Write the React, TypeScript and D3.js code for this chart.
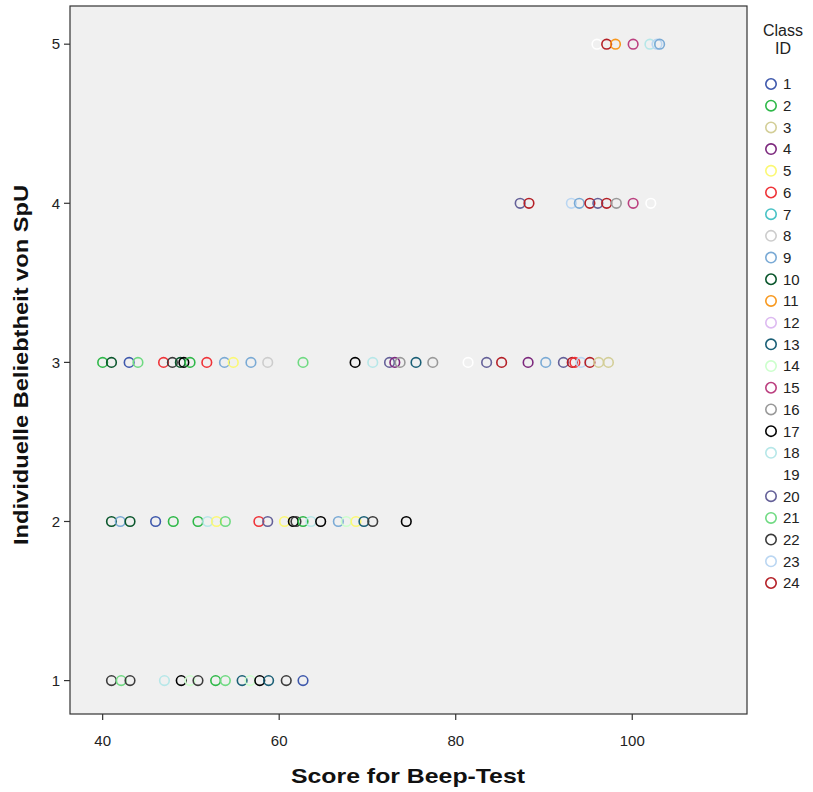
import React from "react";
import * as d3 from "d3";

// Beep-test score, popularity rating and class for every pupil
const scores: number[] = [
  // rating 5
  96.0, 97.1, 98.1, 100.1, 102.0, 102.8, 103.1,
  // rating 4
  87.3, 88.3, 93.1, 94.0, 95.2, 96.1, 97.1, 98.2, 100.1, 102.1,
  // rating 3
  40.0, 41.0, 43.0, 44.0, 46.9, 47.9, 48.8, 49.2, 49.9, 51.8, 53.8, 54.8, 56.8, 58.7,
  62.7, 68.6, 70.6, 72.5, 73.1, 73.7, 75.5, 77.4,
  81.4, 83.5, 85.2, 88.2, 90.2, 92.2, 93.2, 93.5, 94.2, 95.2, 96.2, 97.3,
  // rating 2
  41.0, 42.0, 43.1, 46.0, 48.0, 50.8, 51.9, 52.9, 53.9, 57.7, 58.7,
  60.6, 61.6, 61.9, 62.7, 63.6, 64.7, 66.7, 67.6, 68.7, 69.6, 70.6, 74.4,
  // rating 1
  41.0, 42.1, 43.1, 47.0, 48.9, 49.9, 50.8, 52.8, 53.9, 55.8, 56.7, 57.8, 58.8, 60.8, 62.7,
];

const ratings: number[] = [
  5, 5, 5, 5, 5, 5, 5,
  4, 4, 4, 4, 4, 4, 4, 4, 4, 4,
  3, 3, 3, 3, 3, 3, 3, 3, 3, 3, 3, 3, 3, 3,
  3, 3, 3, 3, 3, 3, 3, 3,
  3, 3, 3, 3, 3, 3, 3, 3, 3, 3, 3, 3,
  2, 2, 2, 2, 2, 2, 2, 2, 2, 2, 2,
  2, 2, 2, 2, 2, 2, 2, 2, 2, 2, 2, 2,
  1, 1, 1, 1, 1, 1, 1, 1, 1, 1, 1, 1, 1, 1, 1,
];

const classIds: number[] = [
  19, 24, 11, 15, 18, 23, 9,
  20, 24, 23, 9, 24, 20, 24, 16, 15, 19,
  2, 10, 1, 21, 6, 22, 10, 17, 2, 6, 9, 5, 9, 8,
  21, 17, 18, 20, 4, 16, 13, 16,
  19, 20, 24, 4, 9, 20, 24, 6, 23, 24, 3, 3,
  10, 9, 10, 1, 2, 2, 18, 5, 21, 6, 20,
  5, 17, 22, 2, 18, 17, 9, 14, 5, 13, 22, 17,
  22, 21, 22, 18, 17, 14, 22, 2, 21, 13, 14, 17, 13, 22, 1,
];

const classLabels: string[] = d3.range(1, 25).map(String);

const classColors: string[] = [
  "#3E58AC", "#2EB848", "#D3CE97", "#7C287D", "#FBF873", "#EF3338",
  "#48C2C5", "#CCCCCC", "#7AAAD5", "#0A562C", "#F8981D", "#DDBAF1",
  "#1A5F76", "#CCFFCC", "#BB3F7F", "#999999", "#000000", "#B6E7E8",
  "#FFFFFF", "#646098", "#6FDA82", "#3C3C3C", "#BAD6F2", "#B41F26",
];

const xTicks: number[] = [40, 60, 80, 100];
const yTicks: number[] = [1, 2, 3, 4, 5];

const W = 813;
const H = 792;
const plot = { left: 70, right: 747, top: 6, bottom: 714 };
const font = "'Liberation Sans', Arial, sans-serif";

export default function App() {
  const x = d3.scaleLinear().domain([36.3, 113.0]).range([plot.left, plot.right]);
  const y = d3.scaleLinear().domain([0.79, 5.24]).range([plot.bottom, plot.top]);
  const color = d3.scaleOrdinal<string, string>().domain(classLabels).range(classColors);
  const legendY = d3.scalePoint<string>().domain(classLabels).range([84, 583]);

  const points = scores.map((s, i) => ({ s, r: ratings[i], c: String(classIds[i]) }));

  return (
    <svg
      width={W}
      height={H}
      style={{ position: "absolute", left: 0, top: 0, background: "#fff" }}
      fontFamily={font}
    >
      <rect
        x={plot.left}
        y={plot.top}
        width={plot.right - plot.left}
        height={plot.bottom - plot.top}
        fill="#F0F0F0"
        stroke="#333"
        strokeWidth={1.2}
      />

      {points.map((p, i) => (
        <circle
          key={i}
          cx={x(p.s)}
          cy={y(p.r)}
          r={4.8}
          fill="none"
          stroke={color(p.c)}
          strokeWidth={1.6}
        />
      ))}

      {/* x axis */}
      {xTicks.map((t) => (
        <g key={t} transform={`translate(${x(t)},${plot.bottom})`}>
          <line y1={0} y2={6} stroke="#333" strokeWidth={1.2} />
          <text y={32} textAnchor="middle" fontSize={15} fill="#222">
            {t}
          </text>
        </g>
      ))}

      {/* y axis */}
      {yTicks.map((t) => (
        <g key={t} transform={`translate(${plot.left},${y(t)})`}>
          <line x1={-6} x2={0} stroke="#333" strokeWidth={1.2} />
          <text x={-10} dy="0.35em" textAnchor="end" fontSize={15} fill="#222">
            {t}
          </text>
        </g>
      ))}

      <text
        x={408}
        y={783}
        textAnchor="middle"
        fontSize={21}
        fontWeight="bold"
        fill="#111"
        textLength={234}
        lengthAdjust="spacingAndGlyphs"
      >
        Score for Beep-Test
      </text>
      <text
        transform="translate(28,365) rotate(-90)"
        textAnchor="middle"
        fontSize={21}
        fontWeight="bold"
        fill="#111"
        textLength={360}
        lengthAdjust="spacingAndGlyphs"
      >
        Individuelle Beliebtheit von SpU
      </text>

      {/* legend */}
      <text x={783} y={36} textAnchor="middle" fontSize={16} fill="#222">
        Class
      </text>
      <text x={783} y={54} textAnchor="middle" fontSize={16} fill="#222">
        ID
      </text>
      {classLabels.map((c) => (
        <g key={c} transform={`translate(0,${legendY(c)})`}>
          <circle cx={771} cy={0} r={5.2} fill="none" stroke={color(c)} strokeWidth={1.6} />
          <text x={783} dy="0.36em" fontSize={15} fill="#222">
            {c}
          </text>
        </g>
      ))}
    </svg>
  );
}
